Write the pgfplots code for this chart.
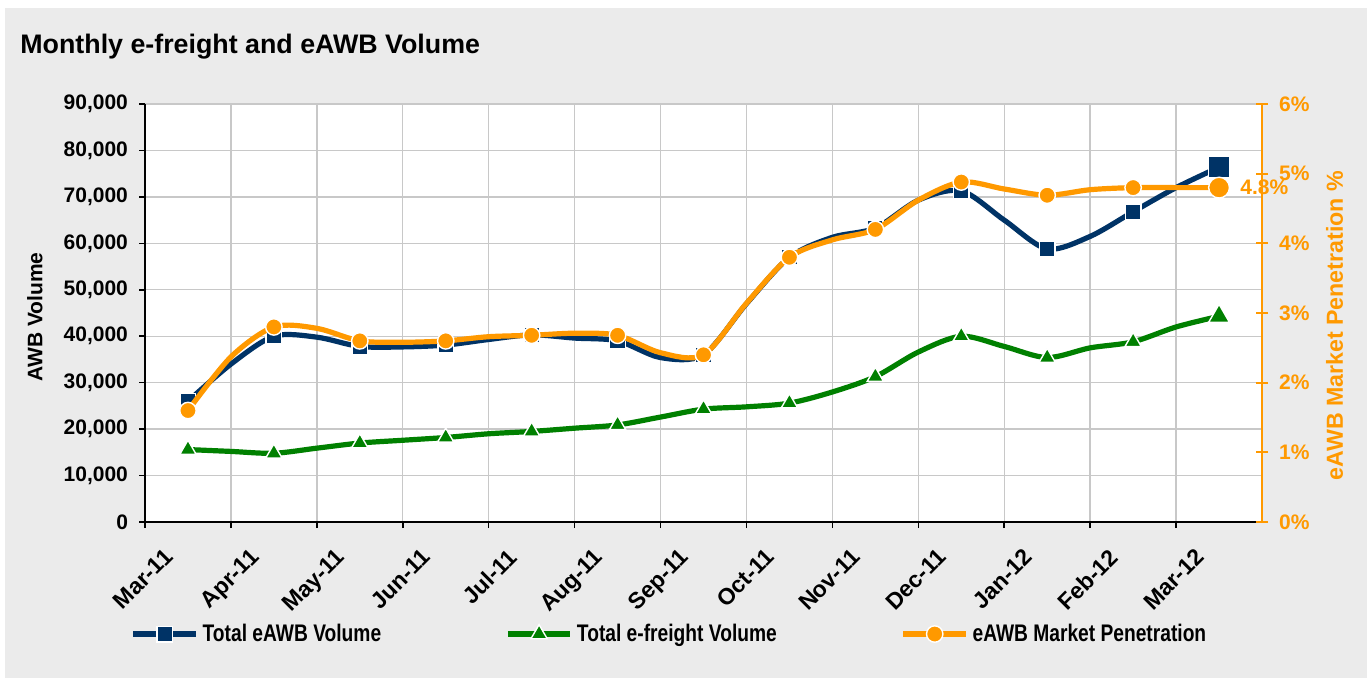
\documentclass[border=0pt]{standalone}
\usepackage{graphicx}
\usepackage{pgfplots}
\pgfplotsset{compat=1.18}
\usepackage{pgfplotstable}
\usepackage{fontspec}
\setmainfont{Liberation Sans}
\definecolor{navy}{RGB}{0,51,102}
\definecolor{fgreen}{RGB}{0,128,0}
\definecolor{orng}{RGB}{255,153,0}
\definecolor{bg}{RGB}{235,235,235}
\definecolor{gridc}{RGB}{200,200,200}

\pgfplotstableread{
x eawb efreight pen
0.5 26000 15600 1.60
1.0 34000 15200 2.37
1.5 40000 14800 2.80
2.0 39800 15900 2.78
2.5 37800 17000 2.60
3.0 37700 17600 2.58
3.5 38100 18200 2.60
4.0 39300 19000 2.66
4.5 40300 19500 2.68
5.0 39600 20200 2.71
5.5 39000 20900 2.68
6.0 35400 22600 2.43
6.5 36000 24300 2.40
7.0 47000 24800 3.14
7.5 57000 25600 3.80
8.0 61300 28000 4.05
8.5 63300 31300 4.20
9.0 69300 36600 4.62
9.5 71300 40000 4.88
10.0 65000 37800 4.78
10.5 58800 35400 4.69
11.0 61500 37500 4.77
11.5 66800 38800 4.80
12.0 72000 42000 4.80
12.5 76400 44300 4.80
}\data

\pgfplotsset{
  common/.style={
    scale only axis, width=558.5pt, height=209pt,
    at={(72.5pt,-261pt)}, anchor=south west,
    xmin=0, xmax=13,
    clip=false,
    tick label style={font=\bfseries\fontsize{10.5}{12}\selectfont},
    /pgf/number format/assume math mode=true,
  },
}

\begin{document}
\begin{tikzpicture}
\fill[white] (0,0) rectangle (684.5pt,-339.5pt);
\fill[bg] (2.5pt,-4pt) rectangle (683.5pt,-339pt);
\node[anchor=west, inner sep=0pt, font=\bfseries\fontsize{13.4}{15}\selectfont] at (10pt,-23.5pt) {Monthly e-freight and eAWB Volume};

\begin{axis}[common,
  axis x line*=bottom, axis y line*=left,
  axis background/.style={fill=white},
  ymin=0, ymax=90000, ytick distance=10000,
  xtick={0,...,12},
  xticklabels={Mar-11,Apr-11,May-11,Jun-11,Jul-11,Aug-11,Sep-11,Oct-11,Nov-11,Dec-11,Jan-12,Feb-12,Mar-12},
  xticklabel style={font=\bfseries\fontsize{11.5}{12}\selectfont, xshift=9pt, yshift=-8pt, rotate=45, anchor=north east, inner sep=1pt},
  scaled y ticks=false,
  yticklabel style={xshift=-2pt, /pgf/number format/.cd, fixed, 1000 sep={,}},
  tick align=outside, major tick length=3pt,
  tick style={black, line width=0.8pt},
  axis line style={black, line width=1pt, -},
  grid=major, grid style={gridc, line width=0.7pt},
  ylabel={AWB Volume},
  every axis y label/.style={at={(axis description cs:-0.0985,0.49)}, rotate=90, anchor=center,
    font=\bfseries\fontsize{10.5}{12}\selectfont},
]
\addplot[navy, line width=2.6pt, smooth, mark=square*, mark size=3.9pt, mark repeat=2, mark phase=1,
  mark options={fill=navy, draw=white, line width=0.7pt, solid}] table[x=x, y=eawb] {\data};
\addplot[only marks, mark=square*, mark size=5.2pt, mark options={fill=navy, draw=white, line width=0.7pt}]
  coordinates {(12.5,76400)};
\addplot[fgreen, line width=2.6pt, smooth, mark=triangle*, mark size=4.7pt, mark repeat=2, mark phase=1,
  mark options={fill=fgreen, draw=white, line width=0.7pt, solid}] table[x=x, y=efreight] {\data};
\addplot[only marks, mark=triangle*, mark size=6pt, mark options={fill=fgreen, draw=white, line width=0.7pt}]
  coordinates {(12.5,44300)};
\end{axis}

\begin{axis}[common,
  axis x line=none, axis y line*=right,
  ymin=0, ymax=6, ytick={0,...,6},
  yticklabel={\pgfmathprintnumber{\tick}\%},
  yticklabel style={orng, xshift=2pt},
  tick align=center, major tick length=6pt,
  y tick style={orng, line width=1pt},
  axis line style={orng, line width=1.2pt, -},
  ylabel={eAWB Market Penetration \%},
  every axis y label/.style={at={(axis description cs:1.065,0.47)}, rotate=90, anchor=center, text=orng,
    font=\bfseries\fontsize{11.6}{12}\selectfont},
  legend columns=3,
  legend style={at={(axis description cs:-0.013,-0.268)}, anchor=west, draw=none, fill=none,
    inner sep=0pt, font=\bfseries\fontsize{12}{14}\selectfont,
    /tikz/every even column/.append style={column sep=60pt}},
  legend image code/.code={\draw[mark repeat=2,mark phase=2] plot coordinates {(0cm,0cm) (0.55cm,0cm) (1.1cm,0cm)};},
]
\addlegendimage{navy, line width=2.6pt, mark=square*, mark size=3.9pt, mark options={fill=navy, draw=white, line width=0.7pt}}
\addlegendentry{\scalebox{0.8}[1]{Total eAWB Volume}}
\addlegendimage{fgreen, line width=2.6pt, mark=triangle*, mark size=4.7pt, mark options={fill=fgreen, draw=white, line width=0.7pt}}
\addlegendentry{\scalebox{0.8}[1]{Total e-freight Volume}}
\addlegendimage{orng, line width=2.6pt, mark=*, mark size=4.1pt, mark options={fill=orng, draw=white, line width=0.7pt}}
\addlegendentry{\scalebox{0.8}[1]{eAWB Market Penetration}}
\addplot[orng, line width=2.6pt, smooth, mark=*, mark size=4.1pt, mark repeat=2, mark phase=1,
  mark options={fill=orng, draw=white, line width=0.7pt, solid}, forget plot] table[x=x, y=pen] {\data};
\addplot[only marks, mark=*, mark size=5.2pt, mark options={fill=orng, draw=white, line width=0.7pt}, forget plot]
  coordinates {(12.5,4.8)};
\node[anchor=west, text=orng, font=\bfseries\fontsize{10.5}{12}\selectfont, inner sep=1pt] at (axis cs:12.72,4.8) {4.8\%};
\end{axis}
\end{tikzpicture}
\end{document}
